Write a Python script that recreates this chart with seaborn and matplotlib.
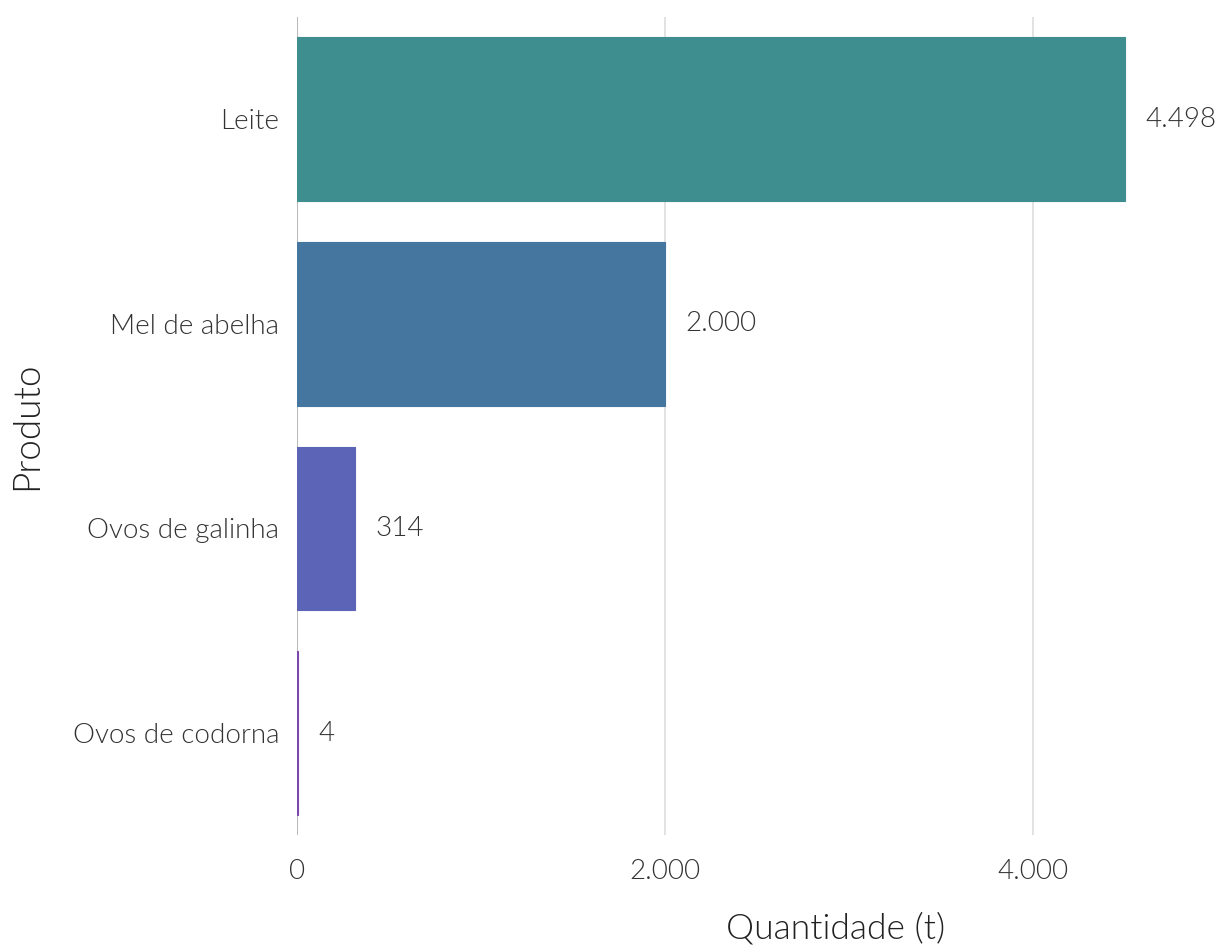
import matplotlib
matplotlib.use('Agg')
import matplotlib.pyplot as plt
import pandas as pd
import seaborn as sns

# Dados
produtos = ['Leite', 'Mel de abelha', 'Ovos de galinha', 'Ovos de codorna']
quantidades = [4498, 2000, 314, 4]
cores = ['#3f8e8f', '#44769f', '#5c64b8', '#7a48b0']
x_ticks = [0, 2000, 4000]


def fmt(v):
    return f'{v:,.0f}'.replace(',', '.')


df = pd.DataFrame({'Produto': produtos, 'Quantidade': quantidades})

sns.set_style('white')
plt.rcParams['font.family'] = ['Lato', 'DejaVu Sans']
plt.rcParams['font.weight'] = 300
plt.rcParams['text.color'] = '#333333'

fig, ax = plt.subplots(figsize=(12.19, 9.46), dpi=100)
fig.subplots_adjust(left=0.2437, right=0.997, top=0.982, bottom=0.117)

sns.barplot(data=df, x='Quantidade', y='Produto', hue='Produto',
            palette=cores, order=produtos, width=0.8, legend=False,
            saturation=1, ax=ax)
for patch, c in zip(ax.patches, cores):
    patch.set_edgecolor(c)
    patch.set_linewidth(0.8)
    patch.set_zorder(2)

# Rótulos dos valores
for i, v in enumerate(quantidades):
    ax.text(v + 110, i, fmt(v), va='center', ha='left', fontsize=20,
            color='#333333', fontweight=300)

ax.set_xlim(0, 4990)
ax.set_xticks(x_ticks)
ax.set_xticklabels([fmt(t) for t in x_ticks])
ax.grid(axis='x', color='#dddddd', linewidth=1.2)
ax.set_axisbelow(True)
for s in ax.spines.values():
    s.set_visible(False)
ax.axvline(0, color='#bbbbbb', linewidth=1.5, zorder=1)

ax.tick_params(axis='both', length=0, labelsize=20, labelcolor='#333333')
ax.tick_params(axis='x', pad=17)
ax.tick_params(axis='y', pad=13)
for lab in ax.get_xticklabels() + ax.get_yticklabels():
    lab.set_fontweight(300)

ax.set_xlabel('Quantidade (t)', fontsize=25.5, fontweight=300, color='#222222')
ax.set_ylabel('Produto', fontsize=26.5, fontweight=300, color='#222222')
ax.xaxis.set_label_coords(0.587, -0.093)
ax.yaxis.set_label_coords(-0.276, 0.5)

fig.savefig('out.png', dpi=100)
